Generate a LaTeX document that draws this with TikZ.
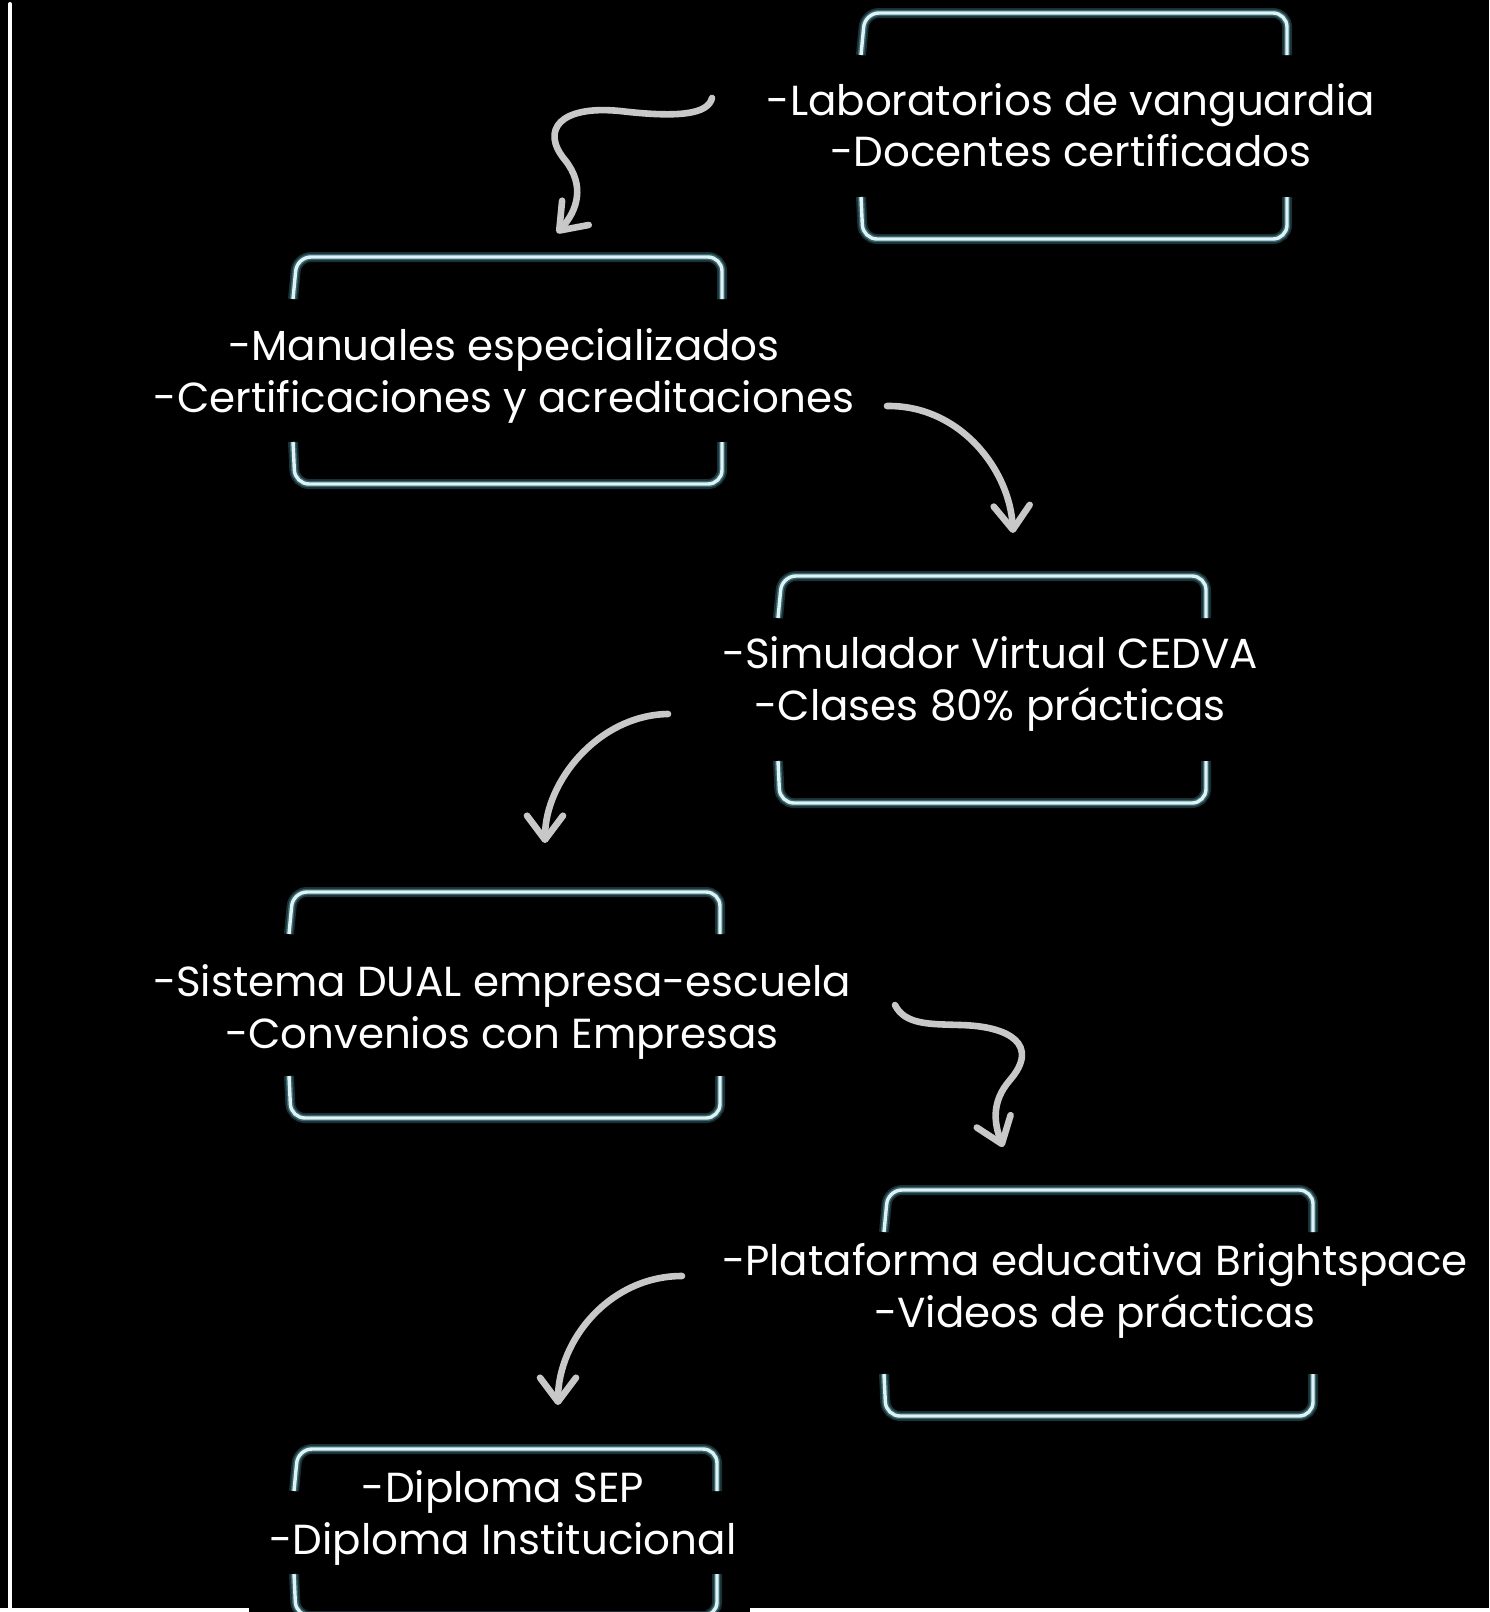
\documentclass[tikz,border=0pt]{standalone}
\usepackage{fontspec}
\setmainfont{Poppins}
\usetikzlibrary{arrows.meta}

\definecolor{glowcore}{RGB}{222,243,246}
\definecolor{glowhalo}{RGB}{80,140,150}
\definecolor{arrowgray}{RGB}{200,200,200}

% two glowing brackets: left, top, right, bottom
\newcommand{\glowbox}[4]{%
  \foreach \lw/\lc/\lo in {5/glowhalo/0.35, 3.2/glowhalo/0.6, 1.7/glowcore/1}{
    \draw[line width=\lw pt, color=\lc, opacity=\lo, rounded corners=7pt]
      (#1,#2+42) -- (#1+4,#2) -- (#3,#2) -- (#3,#2+42);
    \draw[line width=\lw pt, color=\lc, opacity=\lo, rounded corners=7pt]
      (#1,#4-42) -- (#1+2,#4) -- (#3,#4) -- (#3,#4-42);
  }}

\begin{document}
\begin{tikzpicture}[x=0.5pt, y=-0.5pt,
  boxtext/.style={text=white, align=center, font=\fontsize{21}{25.7}\selectfont},
  flowarrow/.style={arrowgray, line width=3.3pt, line cap=round,
    -{Straight Barb[length=12pt, width=18pt, round]}}]
\useasboundingbox (0,0) rectangle (1489,1612);
\clip (0,0) rectangle (1489,1612);
\fill[black] (0,0) rectangle (1489,1612);

% page edges
\draw[white, line width=2pt, line cap=round] (10,4) -- (10,1620);
\fill[white] (0,1608) rectangle (249,1612);
\fill[white] (750,1608) rectangle (1489,1612);

% boxes
\glowbox{861}{13}{1287}{239}
\glowbox{293}{257}{722}{484}
\glowbox{778}{576}{1206}{803}
\glowbox{289}{892}{720}{1118}
\glowbox{884}{1190}{1313}{1416}
\glowbox{294}{1449}{717}{1616}

% texts
\node[boxtext] (lab) at (1071,125) {-Laboratorios de vanguardia\\-Docentes certificados};
\node[boxtext] (man) at (504,376) {-Manuales especializados\\-Certificaciones y acreditaciones};
\node[boxtext] (sim) at (990,684) {-Simulador Virtual CEDVA\\-Clases 80\% prácticas};
\node[boxtext] (dual) at (502,1012) {-Sistema DUAL empresa-escuela\\-Convenios con Empresas};
\node[boxtext] (plat) at (1095,1291) {-Plataforma educativa Brightspace\\-Videos de prácticas};
\node[boxtext] (dip) at (503,1518) {-Diploma SEP\\-Diploma Institucional};

% arrows
\coordinate (a1s) at (712,98);   \coordinate (a1t) at (557,233);
\coordinate (a2s) at (887,406);  \coordinate (a2t) at (1013,533);
\coordinate (a3s) at (668,714);  \coordinate (a3t) at (545,843);
\coordinate (a4s) at (895,1005); \coordinate (a4t) at (1003,1147);
\coordinate (a5s) at (682,1276); \coordinate (a5t) at (558,1405);

\draw[flowarrow] (a1s) .. controls (708,114) and (680,118) .. (620,111)
  .. controls (560,105) and (540,130) .. (565,160)
  .. controls (585,185) and (578,210) .. (a1t);
\draw[flowarrow] (a2s) .. controls (960,405) and (1010,470) .. (a2t);
\draw[flowarrow] (a3s) .. controls (600,715) and (545,780) .. (a3t);
\draw[flowarrow] (a4s) .. controls (905,1025) and (930,1024) .. (960,1025)
  .. controls (1010,1026) and (1040,1045) .. (1010,1080)
  .. controls (990,1103) and (995,1125) .. (a4t);
\draw[flowarrow] (a5s) .. controls (610,1276) and (558,1340) .. (a5t);
\end{tikzpicture}
\end{document}
